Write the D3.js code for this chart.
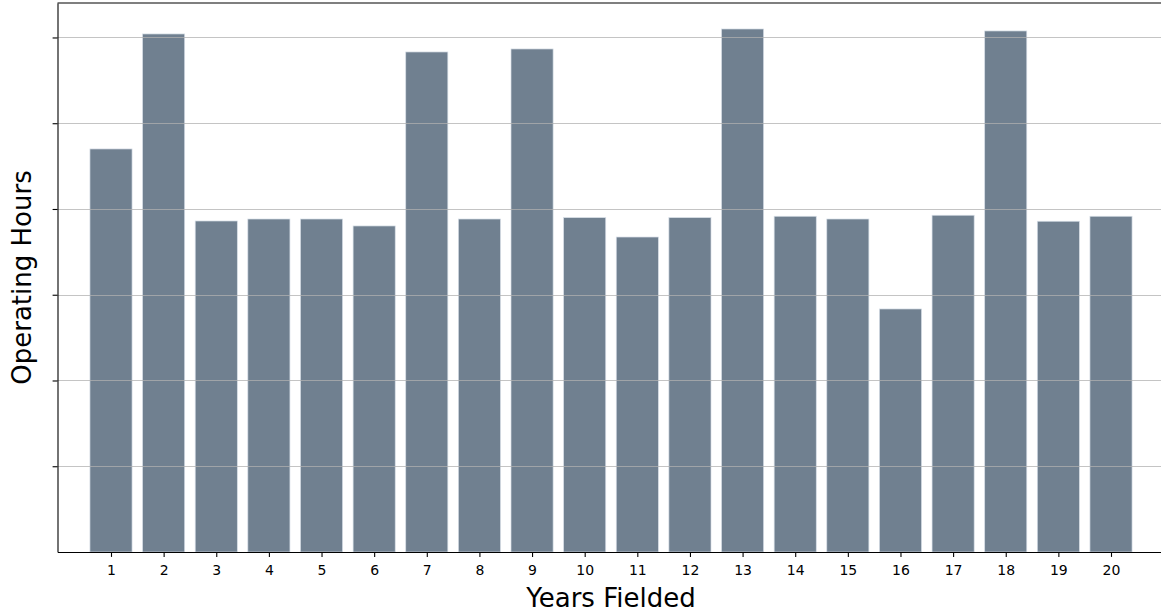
<!DOCTYPE html>
<html>
<head>
<meta charset="utf-8">
<script src="https://cdn.jsdelivr.net/npm/d3@7"></script>
<style>
  html, body { margin: 0; padding: 0; background: #ffffff; }
  svg { display: block; font-family: "DejaVu Sans", sans-serif; }
</style>
</head>
<body>
<svg id="chart" width="1161" height="612"></svg>
<script>
// ---- data ----
const categories = [1, 2, 3, 4, 5, 6, 7, 8, 9, 10, 11, 12, 13, 14, 15, 16, 17, 18, 19, 20];
const operatingHours = [4700, 6041, 3860, 3883, 3883, 3802, 5831, 3883, 5866, 3899,
                        3673, 3899, 6099, 3915, 3883, 2834, 3927, 6076, 3857, 3915];
const yTickValues = [1000, 2000, 3000, 4000, 5000, 6000];
const xLabel = "Years Fielded";
const yLabel = "Operating Hours";

// ---- layout ----
const plotLeft = 57.5, plotRight = 1164.5, plotTop = 3, plotBottom = 552;
const svg = d3.select("#chart");

const x = d3.scaleLinear().domain([1 - 1.0165, 20 + 1.0165]).range([plotLeft, plotRight]);
const y = d3.scaleLinear().domain([0, 6402]).range([plotBottom, plotTop]);
const barW = x(0.8) - x(0);

// bars
svg.append("g").selectAll("rect")
  .data(categories)
  .join("rect")
  .attr("x", (d) => x(d) - barW / 2)
  .attr("width", barW)
  .attr("y", (d, i) => y(operatingHours[i]))
  .attr("height", (d, i) => y(0) - y(operatingHours[i]))
  .attr("fill", "#708090")
  .attr("stroke", "#d6dde6")
  .attr("stroke-width", 0.7);

// grid lines (drawn above bars)
svg.append("g").selectAll("line")
  .data(yTickValues)
  .join("line")
  .attr("x1", plotLeft).attr("x2", plotRight)
  .attr("y1", d => Math.round(y(d)) + 0.5).attr("y2", d => Math.round(y(d)) + 0.5)
  .attr("stroke", "#b0b0b0")
  .attr("stroke-opacity", 0.75)
  .attr("stroke-width", 1.1);

// x axis
const xAxis = d3.axisBottom(x).tickValues(categories).tickFormat(d3.format("d"))
  .tickSize(4.9).tickSizeOuter(0).tickPadding(8);
const gx = svg.append("g").attr("transform", `translate(0,${plotBottom})`).call(xAxis);
gx.select(".domain").attr("stroke", "#000").attr("stroke-width", 1.1);
gx.selectAll(".tick line").attr("stroke", "#000").attr("stroke-width", 1.1);
gx.selectAll(".tick text").attr("font-size", "14px").attr("fill", "#000")
  .attr("font-family", "DejaVu Sans, sans-serif");

// y axis (ticks without labels)
const yAxis = d3.axisLeft(y).tickValues(yTickValues).tickFormat(() => "")
  .tickSize(4.9).tickSizeOuter(0);
const gy = svg.append("g").attr("transform", `translate(${plotLeft},0)`).call(yAxis);
gy.select(".domain").attr("stroke", "#000").attr("stroke-width", 1.1);
gy.selectAll(".tick line").attr("stroke", "#000").attr("stroke-width", 1.1);

// top spine
svg.append("line").attr("x1", plotLeft).attr("x2", plotRight).attr("y1", plotTop).attr("y2", plotTop)
  .attr("stroke", "#000").attr("stroke-width", 1.1);

// axis labels
svg.append("text").text(xLabel)
  .attr("x", (plotLeft + plotRight) / 2).attr("y", 607)
  .attr("text-anchor", "middle").attr("font-size", "26px").attr("fill", "#000");

svg.append("text").text(yLabel)
  .attr("transform", `translate(31,${(plotTop + plotBottom) / 2}) rotate(-90)`)
  .attr("text-anchor", "middle").attr("font-size", "26px").attr("fill", "#000");
</script>
</body>
</html>
